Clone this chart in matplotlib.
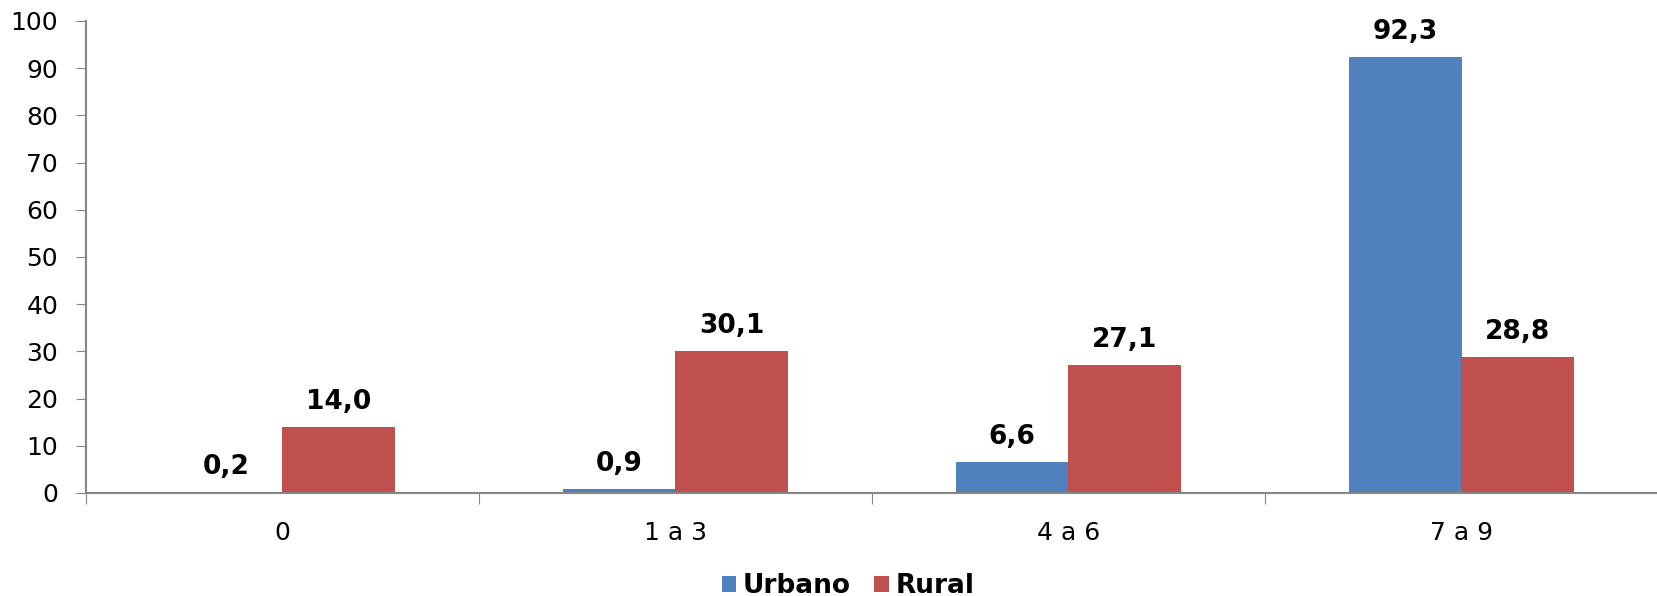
import matplotlib
matplotlib.use("Agg")
import matplotlib.pyplot as plt
import numpy as np

categories = ["0", "1 a 3", "4 a 6", "7 a 9"]
urbano = [0.2, 0.9, 6.6, 92.3]
rural = [14.0, 30.1, 27.1, 28.8]
yticks = [0, 10, 20, 30, 40, 50, 60, 70, 80, 90, 100]

blue = "#4F81BD"
red = "#C0504D"
axis_gray = "#868686"

plt.rcParams['font.family'] = ['DejaVu Sans']
fig = plt.figure(figsize=(16.58, 5.96), dpi=100)
ax = fig.add_axes([86/1658, 1 - 493/596, 1 - 86/1658, (493 - 21)/596])

x = np.arange(len(categories))
w = 0.2875
b1 = ax.bar(x - w/2, urbano, w, color=blue, label="Urbano")
b2 = ax.bar(x + w/2, rural, w, color=red, label="Rural")

for bars, vals in ((b1, urbano), (b2, rural)):
    for rect, v in zip(bars, vals):
        ax.annotate(f"{v:.1f}".replace(".", ","),
                    (rect.get_x() + rect.get_width()/2, rect.get_height()),
                    xytext=(0, 13), textcoords="offset points",
                    ha="center", va="baseline", fontsize=19, fontweight="bold")

ax.set_xlim(-0.5, len(categories) - 0.5)
ax.set_ylim(0, 100)
ax.set_yticks(yticks)
ax.tick_params(axis="y", direction="out", length=7, color=axis_gray, labelsize=18, pad=13)

ax.set_xticks(np.arange(len(categories) + 1) - 0.5)
ax.set_xticklabels([])
ax.set_xticks(x, minor=True)
ax.set_xticklabels(categories, minor=True)
ax.tick_params(axis="x", which="major", direction="out", length=8, color=axis_gray)
ax.tick_params(axis="x", which="minor", length=0, labelsize=18, pad=20)

for s in ["top", "right"]:
    ax.spines[s].set_visible(False)
for s in ["left", "bottom"]:
    ax.spines[s].set_color(axis_gray)
    ax.spines[s].set_linewidth(1.5)

leg = fig.legend(handles=[b1, b2], labels=["Urbano", "Rural"], loc="center",
                 bbox_to_anchor=(848/1658, 1 - 586/596), ncol=2, frameon=False,
                 prop={"size": 19, "weight": "bold"}, handlelength=0.55, handleheight=0.55,
                 handletextpad=0.25, columnspacing=0.9, borderpad=0)

fig.savefig("out.png", dpi=100)
